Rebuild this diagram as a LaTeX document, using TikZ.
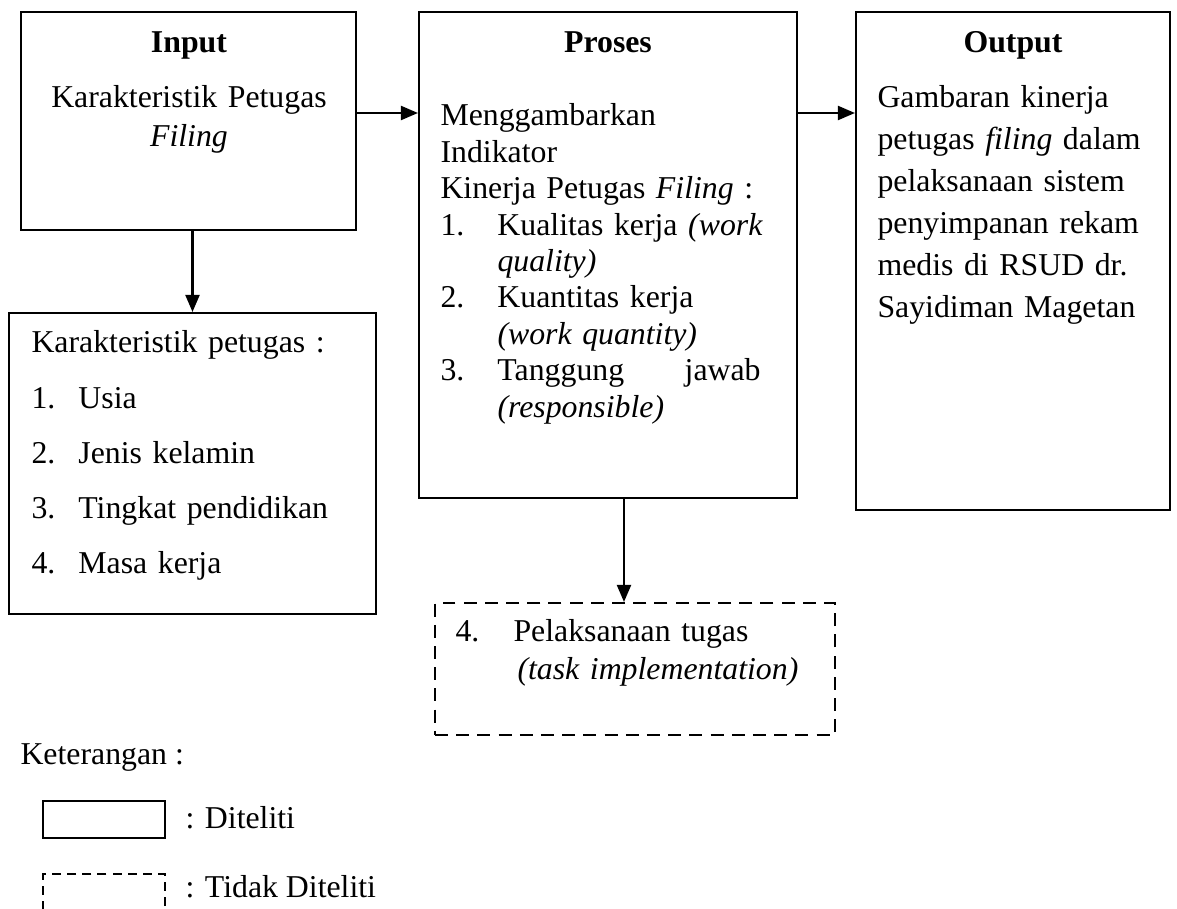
\documentclass[tikz,border=0pt]{standalone}
\usepackage{fontspec}
\setmainfont{Liberation Serif}
\usetikzlibrary{arrows.meta,fit}

\newcommand{\numbox}[2]{\makebox[#1][l]{#2}}

\begin{document}
\begin{tikzpicture}[
    x=0.3774pt, y=-0.3774pt,
    >={Triangle[length=6.5pt,width=5.3pt]},
    font=\fontsize{12}{14}\selectfont,
    frame/.style={draw=black, line width=0.75pt, inner sep=0pt},
    dashframe/.style={frame, dash pattern=on 4.9pt off 3.1pt},
    smalldash/.style={frame, dash pattern=on 3.4pt off 2.3pt},
    head/.style={font=\fontsize{12}{14}\selectfont\bfseries, inner sep=0pt, anchor=base},
    body/.style={inner sep=0pt, anchor=base west, align=left},
    flow/.style={->, line width=0.9pt}
]

\path[use as bounding box, clip] (0,0) rectangle (1177,909);

% Boxes
\node[frame, fit={(21,12) (356,230)}] (inp) {};
\node[frame, fit={(419,12) (797,498)}] (proses) {};
\node[frame, fit={(856,12) (1170,510)}] (outp) {};
\node[frame, fit={(9,313) (376,614)}] (karak) {};
\node[dashframe, fit={(435,603) (835,735)}] (tugas) {};

% Titles
\node[head] (inpT) at (189,53) {Input};
\node[head] (prosesT) at (608,53) {Proses};
\node[head] (outpT) at (1013,53) {Output};

% Box texts
\node[body, anchor=base, text width=113pt, align=center, font=\fontsize{12}{14.7}\selectfont] (inpX) at (189,108) {Karakteristik Petugas\\\textit{Filing}};
\node[body, text width=126pt, font=\fontsize{12}{13.73}\selectfont] (prosesX) at (440,126) {Menggambarkan\\Indikator\\Kinerja Petugas \textit{Filing} :\\\numbox{21.5pt}{1.}\makebox[99.3pt][s]{Kualitas kerja \textit{(work}}\\\hspace*{21.5pt}\textit{quality)}\\\numbox{21.5pt}{2.}Kuantitas kerja\\\hspace*{21.5pt}\textit{(work quantity)}\\\numbox{21.5pt}{3.}\makebox[99.3pt][s]{Tanggung\hfill jawab}\\\hspace*{21.5pt}\textit{(responsible)}};
\node[body, text width=110pt, font=\fontsize{12}{15.85}\selectfont] (outpX) at (877,108) {Gambaran kinerja\\petugas \textit{filing} dalam\\pelaksanaan sistem\\penyimpanan rekam\\medis di RSUD dr.\\Sayidiman Magetan};
\node[body, text width=125pt, font=\fontsize{12}{20.76}\selectfont] (karakX) at (31,353) {Karakteristik petugas :\\\numbox{17.7pt}{1.}Usia\\\numbox{17.7pt}{2.}Jenis kelamin\\\numbox{17.7pt}{3.}Tingkat pendidikan\\\numbox{17.7pt}{4.}Masa kerja};
\node[body, text width=135pt, font=\fontsize{12}{14.3}\selectfont] (tugasX) at (455,642) {\numbox{21.9pt}{4.}Pelaksanaan tugas\\\hspace*{23.4pt}\textit{(task implementation)}};

% Legend
\node[body] (ket) at (20,765) {Keterangan :};
\node[frame, fit={(43,801) (165,838)}] (legYes) {};
\node[body] (legYesT) at (185,829) {: Diteliti};
\node[smalldash, fit={(43,874) (165,920)}] (legNo) {};
\node[body] (legNoT) at (185,897) {: Tidak Diteliti};

% Arrows
\coordinate (row) at (0,113);
\coordinate (col) at (624,0);
\draw[flow] (inp.east |- row) -- (proses.west |- row);
\draw[flow] (proses.east |- row) -- (outp.west |- row);
\draw[flow] (inp.south -| karak.north) -- (karak.north);
\draw[flow] (proses.south -| col) -- (tugas.north -| col);

\end{tikzpicture}
\end{document}
